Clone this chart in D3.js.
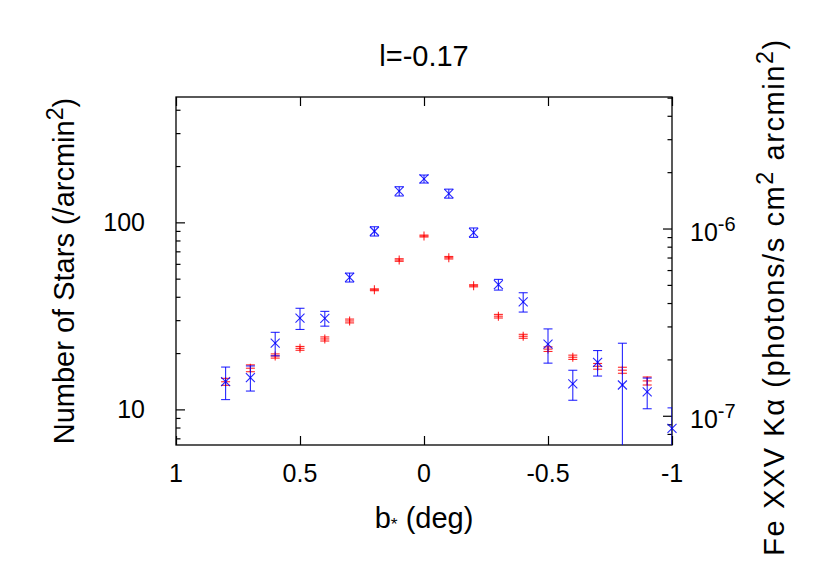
<!DOCTYPE html>
<html><head><meta charset="utf-8">
<script src="https://cdn.jsdelivr.net/npm/d3@7"></script>
<style>body{margin:0;background:#fff}svg{display:block}text{font-family:"Liberation Sans",Arial,sans-serif}</style>
</head><body><svg id="c" width="830" height="580"></svg>
<script>
// ---- data ----
const titleText = "l=-0.17";
const starB = [0.8,0.7,0.6,0.5,0.4,0.3,0.2,0.1,0,-0.1,-0.2,-0.3,-0.4,-0.5,-0.6,-0.7,-0.8,-0.9];
const starVal = [14.05,16.6,19.3,21.2,23.8,29.7,43.6,62.9,84.5,64.7,45.8,31.5,24.6,21.0,19.0,17.0,16.2,14.2];
const starErr = [0.6,0.7,0.5,0.5,0.6,0.7,0.5,1.0,1.0,1.0,0.6,0.7,0.6,0.6,0.5,0.6,0.6,0.7];
const feB = [0.8,0.7,0.6,0.5,0.4,0.3,0.2,0.1,0,-0.1,-0.2,-0.3,-0.4,-0.5,-0.6,-0.7,-0.8,-0.9,-1.0];
const feVal = [1.52e-7,1.60e-7,2.44e-7,3.32e-7,3.31e-7,5.48e-7,9.67e-7,1.582e-6,1.84e-6,1.538e-6,9.52e-7,5.02e-7,4.06e-7,2.41e-7,1.48e-7,1.93e-7,1.46e-7,1.34e-7,0.857e-7];
const feErr = [0.30e-7,0.245e-7,0.35e-7,0.43e-7,0.30e-7,0.30e-7,0.55e-7,0.9e-7,0.9e-7,0.85e-7,0.55e-7,0.33e-7,0.48e-7,0.5e-7,0.27e-7,0.30e-7,0.98e-7,0.25e-7,0.245e-7];
const xTicks = [1,0.5,0,-0.5,-1];
const xTickLabels = ["1","0.5","0","-0.5","-1"];
const yLeftMajor = [10,100];
const yLeftMinor = [7,8,9,20,30,40,50,60,70,80,90,200,300,400];
const yRightMajor = [1e-7,1e-6];
const yRightMajorExp = ["-7","-6"];
const yRightMinor = [8e-8,9e-8,2e-7,3e-7,4e-7,5e-7,6e-7,7e-7,8e-7,9e-7,2e-6,3e-6,4e-6,5e-6];

// ---- layout ----
const L=176,R=672,T=97,B=445;
const FS=25, LS=29;
const svg=d3.select("#c");
const x=d3.scaleLinear().domain([1,-1]).range([L,R]);
const yL=d3.scaleLog().domain([6.45,468]).range([B,T]);
const yR=d3.scaleLog().domain([6.98e-8,5.04e-6]).range([B,T]);

svg.append("defs").append("clipPath").attr("id","clip").append("rect")
  .attr("x",L).attr("y",T).attr("width",R-L).attr("height",B-T);

// axes ticks
function ticks(g){g.select(".domain").remove();g.selectAll(".tick line").attr("stroke","#000").attr("stroke-width",1.2);}
svg.append("g").attr("transform",`translate(0,${B})`)
  .call(d3.axisTop(x).tickValues(xTicks).tickSize(9).tickFormat(""))
  .call(ticks);
svg.append("g").attr("transform",`translate(0,${T})`)
  .call(d3.axisBottom(x).tickValues(xTicks).tickSize(9).tickFormat(""))
  .call(ticks);
svg.append("g").attr("transform",`translate(${L},0)`)
  .call(d3.axisRight(yL).tickValues(yLeftMajor).tickSize(9).tickFormat(""))
  .call(ticks);
svg.append("g").attr("transform",`translate(${L},0)`)
  .call(d3.axisRight(yL).tickValues(yLeftMinor).tickSize(4.5).tickFormat(""))
  .call(ticks);
svg.append("g").attr("transform",`translate(${R},0)`)
  .call(d3.axisLeft(yR).tickValues(yRightMajor).tickSize(9).tickFormat(""))
  .call(ticks);
svg.append("g").attr("transform",`translate(${R},0)`)
  .call(d3.axisLeft(yR).tickValues(yRightMinor).tickSize(4.5).tickFormat(""))
  .call(ticks);

// tick labels
svg.append("g").selectAll("text").data(xTicks).join("text")
  .attr("x",d=>x(d)).attr("y",482).attr("text-anchor","middle").attr("font-size",FS)
  .text((d,i)=>xTickLabels[i]);
svg.append("g").selectAll("text").data(yLeftMajor).join("text")
  .attr("x",145).attr("y",d=>yL(d)+9).attr("text-anchor","end").attr("font-size",FS)
  .text(d=>String(d));
const rl=svg.append("g").selectAll("text").data(yRightMajor).join("text")
  .attr("x",690).attr("y",d=>yR(d)+12).attr("font-size",FS);
rl.append("tspan").text("10");
rl.append("tspan").attr("font-size",FS*0.8).attr("dy",-10).text((d,i)=>yRightMajorExp[i]);

// frame
svg.append("rect").attr("x",L).attr("y",T).attr("width",R-L).attr("height",B-T)
  .attr("fill","none").attr("stroke","#000").attr("stroke-width",1.3);

// data
const cap=4.5, ms=4.5;
function errSeries(bs,vs,es,ys,color,marker){
  const g=svg.append("g");
  const gc=g.append("g").attr("clip-path","url(#clip)");
  bs.forEach((b,i)=>{
    const cx=x(b), v=vs[i], e=es[i];
    const lo=Math.max(v-e,1e-12);
    const y1=ys(v+e), y0=ys(lo), cy=ys(v);
    gc.append("line").attr("x1",cx).attr("x2",cx).attr("y1",y1).attr("y2",y0);
    gc.append("line").attr("x1",cx-cap).attr("x2",cx+cap).attr("y1",y1).attr("y2",y1);
    gc.append("line").attr("x1",cx-cap).attr("x2",cx+cap).attr("y1",y0).attr("y2",y0);
    if(marker==="+"){
      g.append("line").attr("x1",cx-ms).attr("x2",cx+ms).attr("y1",cy).attr("y2",cy);
      g.append("line").attr("x1",cx).attr("x2",cx).attr("y1",cy-ms).attr("y2",cy+ms);
    } else {
      g.append("line").attr("x1",cx-ms).attr("x2",cx+ms).attr("y1",cy-ms).attr("y2",cy+ms);
      g.append("line").attr("x1",cx-ms).attr("x2",cx+ms).attr("y1",cy+ms).attr("y2",cy-ms);
    }
  });
  g.selectAll("line").attr("stroke",color).attr("stroke-width",1.1).attr("stroke-opacity",0.85);
}
errSeries(starB,starVal,starErr,yL,"#ff0000","+");
errSeries(feB,feVal,feErr,yR,"#0000ff","x");

// titles
svg.append("text").attr("x",424).attr("y",66).attr("text-anchor","middle").attr("font-size",LS).text(titleText);
const xl=svg.append("text").attr("x",424).attr("y",528).attr("text-anchor","middle").attr("font-size",LS);
xl.append("tspan").text("b");
xl.append("tspan").attr("font-size",LS*0.6).attr("dy",2).text("*");
xl.append("tspan").attr("dy",-2).text(" (deg)");
const yl=svg.append("text").attr("transform","translate(74,271) rotate(-90)").attr("text-anchor","middle").attr("font-size",LS);
yl.append("tspan").text("Number of Stars (/arcmin");
yl.append("tspan").attr("font-size",LS*0.8).attr("dy",-11).text("2");
yl.append("tspan").attr("dy",11).text(")");
const yr=svg.append("text").attr("transform","translate(784,297) rotate(-90)").attr("text-anchor","middle").attr("font-size",LS).attr("letter-spacing",1.6);
yr.append("tspan").text("Fe XXV K\u03b1 (photons/s cm");
yr.append("tspan").attr("font-size",LS*0.8).attr("dy",-11).text("2");
yr.append("tspan").attr("dy",11).text(" arcmin");
yr.append("tspan").attr("font-size",LS*0.8).attr("dy",-11).text("2");
yr.append("tspan").attr("dy",11).text(")");
</script></body></html>
